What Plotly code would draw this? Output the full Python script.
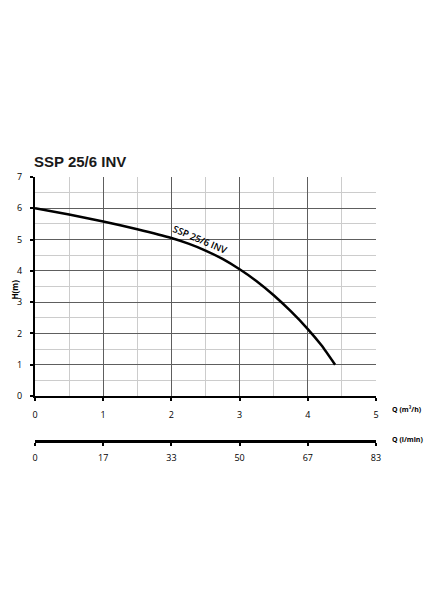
import plotly.graph_objects as go

# pump curve
q_m3h = [0, 0.5, 1, 1.5, 2, 2.25, 2.5, 2.75, 3, 3.25, 3.5, 3.75, 4, 4.2, 4.4]
head_m = [6.0, 5.8, 5.58, 5.33, 5.05, 4.87, 4.65, 4.38, 4.05, 3.67, 3.22, 2.71, 2.14, 1.62, 1.0]

x_ticks = [0, 1, 2, 3, 4, 5]
lmin_labels = ['0', '17', '33', '50', '67', '83']
y_ticks = [0, 1, 2, 3, 4, 5, 6, 7]

model = 'SSP 25/6 INV'
font = 'Open Sans'

fig = go.Figure()

fig.add_trace(go.Scatter(x=q_m3h, y=head_m, mode='lines',
                         line=dict(color='black', width=2.5, shape='spline', smoothing=0.6),
                         hoverinfo='skip', showlegend=False))
# dummy trace so that the l/min axis is drawn
fig.add_trace(go.Scatter(x=[0, 5], y=[0, 0], xaxis='x2', mode='lines', line=dict(width=0),
                         hoverinfo='skip', showlegend=False))

major = '#5e5e5e'
minor = '#cccccc'

fig.update_layout(
    width=424, height=600,
    margin=dict(l=35, r=48, t=177, b=159),
    paper_bgcolor='white', plot_bgcolor='white',
    font=dict(family=font, size=9, color='black'),
    xaxis=dict(range=[0, 5], tickvals=x_ticks, domain=[0, 1], anchor='y',
               showline=True, linecolor='black', linewidth=2,
               ticks='outside', ticklen=3, tickwidth=2, tickcolor='black',
               showgrid=True, gridcolor=major, gridwidth=1,
               minor=dict(dtick=0.5, showgrid=True, gridcolor=minor, gridwidth=1),
               zeroline=False, fixedrange=True, ticklabelstandoff=6),
    xaxis2=dict(range=[0, 5], tickvals=x_ticks, ticktext=lmin_labels, overlaying='x',
                anchor='free', position=0, side='bottom',
                showline=True, linecolor='black', linewidth=2.5,
                ticks='outside', ticklen=3, tickwidth=2, tickcolor='black',
                showgrid=False, zeroline=False, fixedrange=True, ticklabelstandoff=4),
    yaxis=dict(range=[0, 7], tickvals=y_ticks, domain=[45 / 264, 1],
               showline=True, linecolor='black', linewidth=2,
               ticks='outside', ticklen=3, tickwidth=2, tickcolor='black',
               showgrid=True, gridcolor=major, gridwidth=1,
               minor=dict(dtick=0.5, showgrid=True, gridcolor=minor, gridwidth=1),
               zeroline=False, fixedrange=True, ticklabelstandoff=6),
)

annotations = []
annotations.append(dict(xref='paper', yref='paper', x=-0.008, y=1.057, xanchor='left', yanchor='middle',
                        text=f'<b>{model}</b>', showarrow=False,
                        font=dict(family='Liberation Sans', size=15, color='#1a1a1a')))
annotations.append(dict(xref='x', yref='y', x=2.42, y=4.99, text=model, textangle=23,
                        showarrow=False, font=dict(family=font, size=9.5, color='black', weight=600)))
annotations.append(dict(xref='paper', yref='paper', x=-0.082, y=0.572, text='<b>H(m)</b>', textangle=-90,
                        showarrow=False, font=dict(family=font, size=8)))
annotations.append(dict(xref='paper', yref='paper', x=1.041, y=0.121, xanchor='left', yanchor='middle',
                        text='<b>Q (m³/h)</b>', showarrow=False, font=dict(family=font, size=7)))
annotations.append(dict(xref='paper', yref='paper', x=1.041, y=0.004, xanchor='left', yanchor='middle',
                        text='<b>Q (l/min)</b>', showarrow=False, font=dict(family=font, size=7)))
fig.update_layout(annotations=annotations)

# drop the page margin so the 424x600 figure fills the window exactly
fig.write_html('out.html', config={'displayModeBar': False},
               post_script="document.body.style.margin='0';")
